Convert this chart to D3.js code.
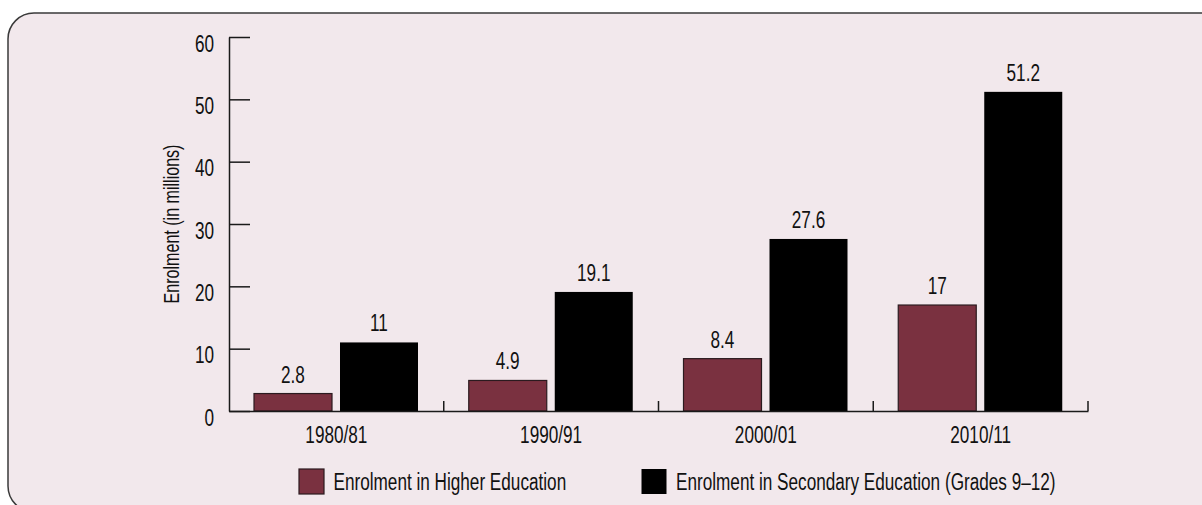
<!DOCTYPE html>
<html>
<head>
<meta charset="utf-8">
<script src="https://cdn.jsdelivr.net/npm/d3@7"></script>
<style>
  html, body { margin: 0; padding: 0; background: #ffffff; }
  svg { display: block; }
  text { font-family: "Liberation Sans", Arial, sans-serif; fill: #111; }
</style>
</head>
<body>
<svg id="chart" width="1202" height="505"></svg>
<script>
// Enrolment by school year (millions)
const years = ["1980/81", "1990/91", "2000/01", "2010/11"];
const seriesNames = ["Enrolment in Higher Education", "Enrolment in Secondary Education (Grades 9–12)"];
const higherEd = [2.8, 4.9, 8.4, 17];
const secondaryEd = [11, 19.1, 27.6, 51.2];
const yTicks = [0, 10, 20, 30, 40, 50, 60];
const yTitle = "Enrolment (in millions)";
const seriesColors = ["#7a3140", "#000000"];

const FONT = 23.5;
const SQUEEZE = 0.73;
// squeeze glyphs horizontally to get a condensed face
function condense(sel, factor) {
  sel.each(function () {
    const w = this.getComputedTextLength();
    this.setAttribute("textLength", (w * factor).toFixed(2));
    this.setAttribute("lengthAdjust", "spacingAndGlyphs");
  });
}

const svg = d3.select("#chart");

// rounded panel behind the chart
svg.append("rect")
  .attr("x", 8).attr("y", 13)
  .attr("width", 1260).attr("height", 499)
  .attr("rx", 26).attr("ry", 26)
  .attr("fill", "#f2e8ec")
  .attr("stroke", "#3a3a3a")
  .attr("stroke-width", 1.5);

const plot = { left: 229, right: 1088, top: 37, bottom: 411 };

const y = d3.scaleLinear().domain([0, 60]).range([plot.bottom, plot.top]);
const x0 = d3.scaleBand().domain(years).range([plot.left, plot.right]).padding(0);
const x1 = d3.scaleBand().domain(seriesNames).range([25, 189]).paddingInner(8 / 86).paddingOuter(0);

const rows = years.map((yr, i) => ({
  year: yr,
  values: [
    { key: seriesNames[0], value: higherEd[i], idx: 0 },
    { key: seriesNames[1], value: secondaryEd[i], idx: 1 }
  ]
}));

// bars
const groups = svg.append("g").selectAll("g")
  .data(rows).join("g")
  .attr("transform", d => `translate(${x0(d.year)},0)`);

groups.selectAll("rect")
  .data(d => d.values).join("rect")
  .attr("x", d => x1(d.key))
  .attr("width", x1.bandwidth())
  .attr("y", d => y(d.value))
  .attr("height", d => y(0) - y(d.value))
  .attr("fill", d => seriesColors[d.idx])
  .attr("stroke", d => d.idx === 0 ? "#2b1a1f" : "none")
  .attr("stroke-width", 1.2);

// value labels
groups.selectAll("text.val")
  .data(d => d.values).join("text")
  .attr("class", "val")
  .attr("x", d => x1(d.key) + x1.bandwidth() / 2)
  .attr("y", d => y(d.value) - 11)
  .attr("text-anchor", "middle")
  .attr("font-size", FONT)
  .text(d => d3.format("~g")(d.value))
  .call(condense, SQUEEZE);

// y axis: ticks point into the plot, labels sit just below each tick
const yAxis = svg.append("g")
  .attr("transform", `translate(${plot.left},0)`)
  .call(d3.axisLeft(y).tickValues(yTicks).tickSizeInner(-21).tickSizeOuter(0).tickPadding(15));
yAxis.select(".domain").attr("stroke", "#1a1a1a").attr("stroke-width", 1.5);
yAxis.selectAll(".tick line").attr("stroke", "#1a1a1a").attr("stroke-width", 1.5);
yAxis.selectAll(".tick text")
  .attr("font-size", FONT)
  .attr("font-family", null)
  .attr("fill", "#111")
  .attr("dy", "0.6em")
  .call(condense, SQUEEZE);

// x axis
const xAxis = svg.append("g")
  .attr("transform", `translate(0,${plot.bottom})`)
  .call(d3.axisBottom(x0).tickSize(0).tickPadding(15));
xAxis.select(".domain").attr("stroke", "#1a1a1a").attr("stroke-width", 1.5);
xAxis.selectAll(".tick text")
  .attr("font-size", FONT)
  .attr("font-family", null)
  .attr("fill", "#111")
  .call(condense, SQUEEZE);

// category separators on the x axis
svg.append("g").selectAll("line")
  .data(years).join("line")
  .attr("x1", d => x0(d) + x0.bandwidth())
  .attr("x2", d => x0(d) + x0.bandwidth())
  .attr("y1", plot.bottom)
  .attr("y2", plot.bottom - 10)
  .attr("stroke", "#1a1a1a")
  .attr("stroke-width", 1.5);

// y axis title
svg.append("text")
  .attr("transform", `translate(179,${(plot.top + plot.bottom) / 2}) rotate(-90)`)
  .attr("text-anchor", "middle")
  .attr("font-size", 22)
  .text(yTitle)
  .call(condense, SQUEEZE);

// legend
const legendX = [299, 641.5];
const legend = svg.append("g").selectAll("g")
  .data(seriesNames).join("g")
  .attr("transform", (d, i) => `translate(${legendX[i]},469)`);
legend.append("rect")
  .attr("width", 25).attr("height", 25)
  .attr("fill", (d, i) => seriesColors[i])
  .attr("stroke", (d, i) => i === 0 ? "#2b1a1f" : "none")
  .attr("stroke-width", 1.2);
legend.append("text")
  .attr("x", 34.5)
  .attr("y", 21)
  .attr("font-size", FONT)
  .text(d => d)
  .call(condense, SQUEEZE);
</script>
</body>
</html>
